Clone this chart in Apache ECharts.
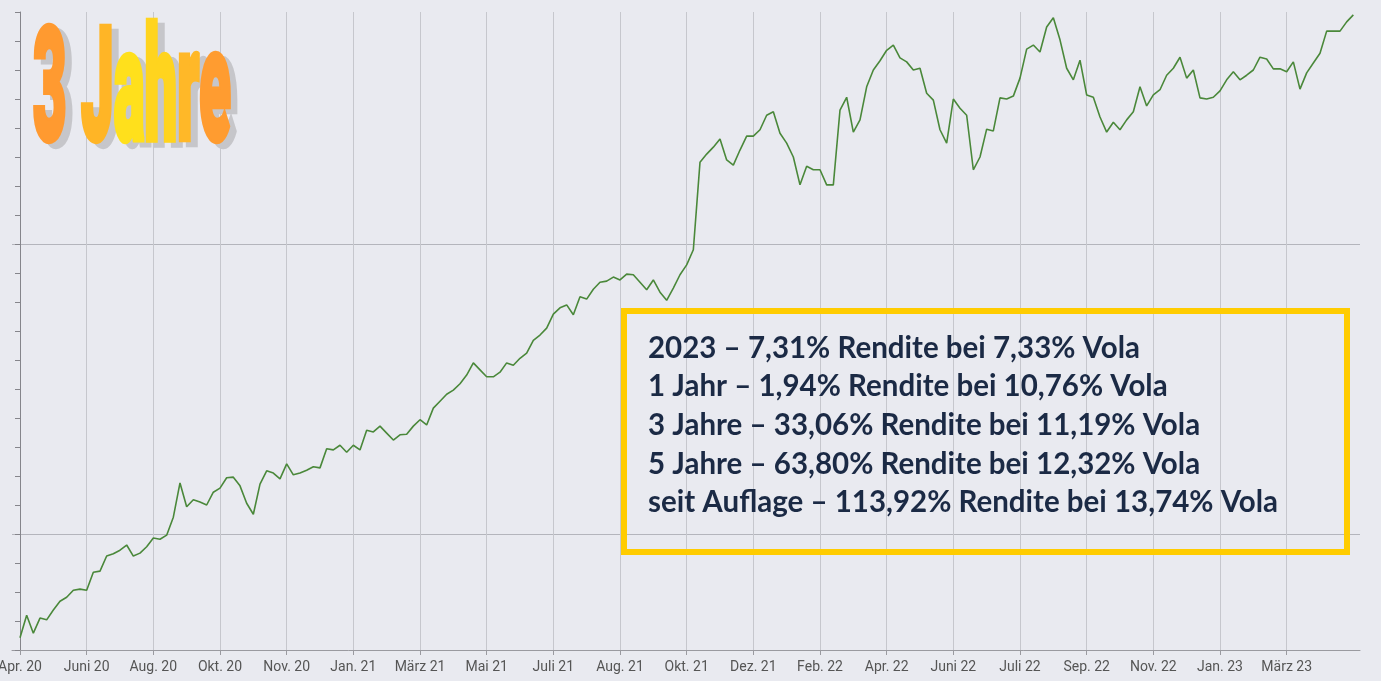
<!DOCTYPE html>
<html>
<head>
<meta charset="utf-8">
<title>3 Jahre</title>
<script src="https://cdn.jsdelivr.net/npm/echarts@6/dist/echarts.min.js"></script>
<style>
  html, body { margin: 0; padding: 0; background: #e9eaf0; }
  #chart { width: 1381px; height: 681px; }
</style>
</head>
<body>
<div id="chart"></div>
<script>
// x axis labels, one every 10 data points
const xLabels = ['Apr. 20', 'Juni 20', 'Aug. 20', 'Okt. 20', 'Nov. 20', 'Jan. 21', 'März 21', 'Mai 21',
  'Juli 21', 'Aug. 21', 'Okt. 21', 'Dez. 21', 'Feb. 22', 'Apr. 22', 'Juni 22', 'Juli 22',
  'Sep. 22', 'Nov. 22', 'Jan. 23', 'März 23']
const labelStep = 10

// fund value (no axis labels in the original)
const navValues = [
  82.1, 86.0, 82.9, 85.5, 85.2, 86.9, 88.4, 89.1, 90.3, 90.5,
  90.3, 93.4, 93.6, 96.2, 96.6, 97.2, 98.1, 96.2, 96.7, 97.8,
  99.3, 99.1, 99.8, 102.9, 108.8, 104.7, 105.9, 105.5, 105.0, 107.2,
  107.9, 109.7, 109.8, 108.3, 105.3, 103.4, 108.6, 110.9, 110.5, 109.5,
  112.1, 110.2, 110.5, 111.0, 111.6, 111.4, 114.7, 114.5, 115.3, 114.1,
  115.3, 114.5, 117.9, 117.6, 118.6, 117.4, 116.2, 117.1, 117.2, 118.6,
  119.7, 118.8, 121.7, 122.9, 124.1, 124.8, 125.9, 127.4, 129.5, 128.3,
  127.1, 127.1, 127.9, 129.5, 129.1, 130.3, 131.2, 133.4, 134.3, 135.5,
  137.9, 139.0, 139.5, 137.8, 140.9, 140.5, 142.2, 143.4, 143.6, 144.3,
  143.8, 144.8, 144.7, 143.4, 142.1, 143.8, 141.7, 140.3, 142.4, 144.7,
  146.4, 149.0, 164.1, 165.5, 166.7, 168.1, 164.5, 163.6, 166.2, 168.6,
  168.6, 169.7, 172.2, 172.8, 169.1, 167.4, 165.0, 160.2, 163.4, 162.8,
  162.8, 160.2, 160.2, 173.1, 175.3, 169.3, 171.4, 177.1, 180.0, 181.6,
  183.4, 184.3, 182.1, 181.4, 180.0, 180.3, 176.0, 174.8, 169.7, 167.4,
  175.0, 173.4, 172.2, 162.8, 165.0, 169.8, 169.5, 175.2, 175.0, 175.5,
  178.6, 183.6, 184.3, 183.1, 187.4, 189.0, 185.2, 180.3, 178.3, 181.7,
  175.7, 175.3, 171.9, 169.3, 171.0, 169.7, 171.4, 172.8, 177.1, 173.8,
  175.7, 176.6, 179.1, 180.3, 182.2, 178.6, 180.0, 175.2, 175.0, 175.3,
  176.4, 178.3, 179.7, 178.3, 179.1, 180.0, 182.2, 181.9, 180.2, 180.2,
  179.7, 181.4, 176.7, 179.5, 181.2, 182.9, 186.7, 186.7, 186.7, 188.3,
  189.5
]

// y scale: small ticks every 5, grid lines at 100 and 150
const yMin = 80
const yMax = 190
const yStep = 5
const yGridValues = [100, 150]

const statLines = [
  '2023 – 7,31% Rendite bei 7,33% Vola',
  '1 Jahr – 1,94% Rendite bei 10,76% Vola',
  '3 Jahre – 33,06% Rendite bei 11,19% Vola',
  '5 Jahre – 63,80% Rendite bei 12,32% Vola',
  'seit Auflage – 113,92% Rendite bei 13,74% Vola'
]
const titleText = '3 Jahre'
// word-art colours per letter (orange at the ends, yellow in the middle)
const titleColors = ['#ff9a30', '#ff9a30', '#ffb526', '#ffe01c', '#ffd41e', '#ffb828', '#ff9c30']

const tickValues = xLabels.map((n, i) => i * labelStep)
const seriesData = navValues.map((v, i) => [i, v])

// title: one text element per letter so every letter gets its own colour
const titleFont = '900 100px Roboto'
const titleX = 33
const titleY = 99
const titleScaleX = 0.58
const titleScaleY = 1.58
const measureCtx = document.createElement('canvas').getContext('2d')
measureCtx.font = titleFont

function titleLetter(x, y, text, color, z) {
  return {
    type: 'text',
    x: x, y: y,
    scaleX: titleScaleX, scaleY: titleScaleY,
    z: z,
    style: {
      text: text,
      x: 0, y: 0,
      align: 'left',
      verticalAlign: 'middle',
      font: titleFont,
      fill: color,
      stroke: color,
      lineWidth: 4
    }
  }
}

const titleGraphics = [titleLetter(titleX + 7, titleY + 5, titleText, '#c6c6ca', 10)]
titleText.split('').forEach((ch, i) => {
  if (ch === ' ') return
  const dx = measureCtx.measureText(titleText.slice(0, i)).width * titleScaleX
  titleGraphics.push(titleLetter(titleX + dx, titleY, ch, titleColors[i], 11))
})

const chart = echarts.init(document.getElementById('chart'))

const option = {
  backgroundColor: '#e9eaf0',
  animation: false,
  grid: {
    left: 12,
    right: 21,
    top: 12,
    bottom: 31,
    outerBoundsMode: 'none'
  },
  xAxis: {
    type: 'value',
    min: -1.2,
    max: 201,
    axisLine: {
      show: true,
      onZero: false,
      lineStyle: { color: '#9a9aa0', width: 1 }
    },
    axisTick: {
      show: true,
      length: 5,
      customValues: tickValues,
      lineStyle: { color: '#9a9aa0' }
    },
    axisLabel: {
      show: true,
      customValues: tickValues,
      margin: 10,
      color: '#555555',
      fontFamily: 'Roboto',
      fontSize: 14,
      formatter: function (v) {
        return xLabels[Math.round(v / labelStep)] || ''
      }
    },
    splitLine: {
      show: true,
      lineStyle: { color: '#c6c7cd', width: 1 }
    }
  },
  yAxis: [{
    type: 'value',
    min: yMin,
    max: yMax,
    interval: yStep,
    position: 'left',
    axisLine: {
      show: true,
      lineStyle: { color: '#85858b', width: 1 }
    },
    axisTick: {
      show: true,
      length: 5,
      lineStyle: { color: '#85858b' }
    },
    axisLabel: { show: false },
    splitLine: { show: false }
  }, {
    type: 'value',
    min: yMin,
    max: yMax,
    position: 'left',
    axisLine: { show: false },
    axisTick: { show: false, customValues: yGridValues },
    axisLabel: { show: false },
    splitLine: {
      show: true,
      lineStyle: { color: '#b4b5bc', width: 1 }
    }
  }],
  series: [{
    type: 'line',
    data: seriesData,
    yAxisIndex: 0,
    symbol: 'none',
    lineStyle: { color: '#4a883a', width: 1.6 },
    z: 3
  }],
  graphic: titleGraphics.concat([
    // yellow framed box with the key figures
    {
      type: 'rect',
      z: 12,
      shape: { x: 624, y: 311, width: 723, height: 241 },
      style: { fill: null, stroke: '#ffcc00', lineWidth: 6 }
    },
    {
      type: 'text',
      z: 13,
      x: 648, y: 329,
      style: {
        text: statLines.join('\n'),
        x: 0, y: 0,
        align: 'left',
        verticalAlign: 'top',
        font: 'bold 29.5px Lato',
        lineHeight: 38.6,
        fill: '#1b2a45'
      }
    }
  ])
}

chart.setOption(option)
</script>
</body>
</html>
